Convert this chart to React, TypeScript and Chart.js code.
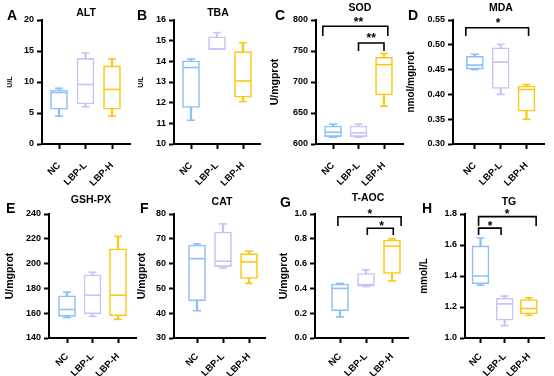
import React, { useEffect, useRef } from 'react';
import { Chart, registerables } from 'chart.js';

Chart.register(...registerables);

const FONT = '"Liberation Sans", Arial, sans-serif';

const groups = ['NC', 'LBP-L', 'LBP-H'];
const groupColors = ['#8DC0FB', '#C9C4F6', '#FBC817'];

// five-number summaries per group: [min, q1, median, q3, max]
const altBoxes = [[4.5, 5.6, 8.3, 8.7, 9.0], [6.0, 6.45, 9.6, 13.8, 14.7], [4.5, 5.6, 8.8, 12.6, 13.7]];
const tbaBoxes = [[11.15, 11.77, 13.7, 14.03, 14.11], [14.58, 14.58, 14.6, 15.19, 15.39], [12.05, 12.26, 13.05, 14.47, 14.9]];
const sodBoxes = [[611, 612, 619, 629, 632], [611, 612, 618, 629, 632], [661, 679, 728, 740, 746]];
const mdaBoxes = [[0.45, 0.451, 0.459, 0.477, 0.481], [0.40, 0.412, 0.465, 0.494, 0.501], [0.35, 0.366, 0.41, 0.417, 0.42]];
const gshBoxes = [[156.5, 157.5, 163, 174, 177], [157.5, 159.5, 174.5, 191, 193], [155, 158, 174.5, 212, 222]];
const catBoxes = [[41, 45, 62, 67.5, 68], [58.2, 58.8, 61, 72.7, 76], [52, 54, 60.7, 64, 65]];
const taocBoxes = [[0.17, 0.22, 0.40, 0.435, 0.44], [0.415, 0.418, 0.43, 0.52, 0.55], [0.46, 0.52, 0.74, 0.79, 0.80]];
const tgBoxes = [[1.34, 1.35, 1.40, 1.594, 1.645], [1.08, 1.115, 1.22, 1.256, 1.27], [1.145, 1.155, 1.19, 1.248, 1.26]];

// y axis: [min, max, step, decimals]
const altAxis = [0, 20, 5, 0];
const tbaAxis = [10, 16, 1, 0];
const sodAxis = [600, 800, 50, 0];
const mdaAxis = [0.3, 0.55, 0.05, 2];
const gshAxis = [140, 240, 20, 0];
const catAxis = [30, 80, 10, 0];
const taocAxis = [0, 1, 0.2, 1];
const tgAxis = [1.0, 1.8, 0.2, 1];

// significance brackets: [xFrom, xTo, yTop, yEnd]
const sodBrackets = [[-0.4, 2.15, 790, 774], [1, 2, 763, 750]];
const mdaBrackets = [[-0.35, 2.08, 0.5345, 0.5177]];
const taocBrackets = [[-0.08, 2.35, 0.978, 0.903], [1.05, 2.05, 0.885, 0.831]];
const tgBrackets = [[-0.08, 2.3, 1.783, 1.723], [-0.08, 0.85, 1.709, 1.665]];

// significance marks: [text, x, y]
const sodStars = [['**', 1.0, 801.6], ['**', 1.5, 775.8]];
const mdaStars = [['*', 0.9, 0.55]];
const taocStars = [['*', 1.15, 1.019], ['*', 1.6, 0.925]];
const tgStars = [['*', 1.1, 1.815], ['*', 0.4, 1.742]];

type Cfg = {
  letter: string; title: string; yTitle: string; yTitleSize: number; yTitleX: number;
  boxes: number[][]; axis: number[]; brackets: number[][]; stars: any[];
  axisX: number; ncX: number; sp: number; rightX: number; top: number; bottom: number; labelPad: number;
  titleX: number; titleTop: number; letterX: number; letterTop: number;
};

const panels: Cfg[] = [
  { letter: 'A', title: 'ALT', yTitle: 'U/L', yTitleSize: 7, yTitleX: 10, boxes: altBoxes, axis: altAxis, brackets: [], stars: [],
    axisX: 42, ncX: 59, sp: 26.5, rightX: 130, top: 20, bottom: 144, labelPad: 11, titleX: 86, titleTop: 8, letterX: 7, letterTop: 10 },
  { letter: 'B', title: 'TBA', yTitle: 'U/L', yTitleSize: 7, yTitleX: 141, boxes: tbaBoxes, axis: tbaAxis, brackets: [], stars: [],
    axisX: 174, ncX: 191, sp: 26, rightX: 260, top: 20, bottom: 144, labelPad: 11, titleX: 218, titleTop: 8, letterX: 137, letterTop: 10 },
  { letter: 'C', title: 'SOD', yTitle: 'U/mgprot', yTitleSize: 10.5, yTitleX: 275, boxes: sodBoxes, axis: sodAxis, brackets: sodBrackets, stars: sodStars,
    axisX: 316, ncX: 333, sp: 25.5, rightX: 403, top: 20, bottom: 144, labelPad: 11, titleX: 360, titleTop: 3, letterX: 275, letterTop: 10 },
  { letter: 'D', title: 'MDA', yTitle: 'nmol/mgprot', yTitleSize: 10, yTitleX: 411, boxes: mdaBoxes, axis: mdaAxis, brackets: mdaBrackets, stars: mdaStars,
    axisX: 453, ncX: 475, sp: 26, rightX: 545, top: 20, bottom: 144, labelPad: 11, titleX: 501, titleTop: 3, letterX: 408, letterTop: 10 },
  { letter: 'E', title: 'GSH-PX', yTitle: 'U/mgprot', yTitleSize: 10.5, yTitleX: 10, boxes: gshBoxes, axis: gshAxis, brackets: [], stars: [],
    axisX: 49, ncX: 67, sp: 25.5, rightX: 136, top: 214, bottom: 338, labelPad: 8, titleX: 91, titleTop: 195, letterX: 6, letterTop: 203 },
  { letter: 'F', title: 'CAT', yTitle: 'U/mgprot', yTitleSize: 10.5, yTitleX: 142, boxes: catBoxes, axis: catAxis, brackets: [], stars: [],
    axisX: 174, ncX: 197, sp: 26, rightX: 265, top: 214, bottom: 338, labelPad: 8, titleX: 222, titleTop: 197, letterX: 140, letterTop: 203 },
  { letter: 'G', title: 'T-AOC', yTitle: 'U/mgprot', yTitleSize: 10.5, yTitleX: 284, boxes: taocBoxes, axis: taocAxis, brackets: taocBrackets, stars: taocStars,
    axisX: 315, ncX: 340, sp: 26, rightX: 408, top: 214, bottom: 338, labelPad: 8, titleX: 368, titleTop: 193, letterX: 280, letterTop: 197 },
  { letter: 'H', title: 'TG', yTitle: 'mmol/L', yTitleSize: 10, yTitleX: 424, boxes: tgBoxes, axis: tgAxis, brackets: tgBrackets, stars: tgStars,
    axisX: 465, ncX: 482, sp: 26.5, rightX: 552, top: 214, bottom: 338, labelPad: 8, titleX: 509, titleTop: 197, letterX: 422, letterTop: 203 },
];

const W = 554;
const H = 376;
const CANVAS_H = 420;
const X_AXIS_H = 55;

function Panel({ cfg }: { cfg: Cfg }) {
  const ref = useRef<HTMLCanvasElement | null>(null);
  useEffect(() => {
    if (!ref.current) return;
    const xmin = -(cfg.ncX - cfg.axisX) / cfg.sp;
    const xmax = (cfg.rightX - cfg.ncX) / cfg.sp;
    const padLeft = cfg.yTitleX - 0.6 * cfg.yTitleSize;
    const yW = cfg.axisX - padLeft;
    const b = cfg.boxes;
    const datasets: any[] = [
      {
        type: 'bar', order: 2, grouped: false, barThickness: 17,
        data: b.map((v, i) => ({ x: i, y: [v[1], v[3]] })),
        backgroundColor: '#ffffff', borderColor: groupColors, borderWidth: 1.6, borderSkipped: false,
      },
      {
        type: 'bar', order: 3, grouped: false, barThickness: 1.6,
        data: b.map((v, i) => ({ x: i, y: [v[0], v[4]] })),
        backgroundColor: groupColors, borderWidth: 0,
      },
      {
        type: 'line', order: 1, showLine: false,
        data: b.map((v, i) => ({ x: i, y: v[2] })),
        pointStyle: 'line', pointRadius: 8, pointBorderWidth: 1.6, pointBorderColor: groupColors,
      },
      {
        type: 'line', order: 1, showLine: false,
        data: b.flatMap((v, i) => [{ x: i, y: v[0] }, { x: i, y: v[4] }]),
        pointStyle: 'line', pointRadius: 4, pointBorderWidth: 1.6,
        pointBorderColor: b.flatMap((_, i) => [groupColors[i], groupColors[i]]),
      },
      ...cfg.brackets.map((br) => ({
        type: 'line', order: 0, clip: false,
        data: [{ x: br[0], y: br[3] }, { x: br[0], y: br[2] }, { x: br[1], y: br[2] }, { x: br[1], y: br[3] }],
        borderColor: '#000', borderWidth: 1.6, pointRadius: 0, tension: 0, fill: false,
      })),
    ];
    const starPlugin = {
      id: 'stars',
      afterDatasetsDraw(chart: any) {
        const ctx = chart.ctx;
        ctx.save();
        ctx.fillStyle = '#000';
        ctx.font = `bold 12px ${FONT}`;
        ctx.textAlign = 'center';
        ctx.textBaseline = 'alphabetic';
        cfg.stars.forEach((s: any) => {
          const x = chart.scales.x.getPixelForValue(s[1]);
          const y = chart.scales.y.getPixelForValue(s[2]);
          ctx.fillText(s[0], x, y + 0.55 * 12);
        });
        ctx.restore();
      },
    };
    const axisCommon = {
      border: { display: true, color: '#000', width: 2 },
      grid: { display: true, drawOnChartArea: false, drawTicks: true, tickLength: 5, tickWidth: 2, tickColor: '#000', offset: false },
    };
    const chart = new Chart(ref.current, {
      type: 'bar',
      data: { datasets },
      plugins: [starPlugin],
      options: {
        animation: false,
        responsive: false,
        events: [],
        layout: {
          padding: { left: padLeft, top: cfg.top, right: W - cfg.rightX, bottom: CANVAS_H - cfg.bottom - X_AXIS_H },
        },
        plugins: { legend: { display: false }, tooltip: { enabled: false }, title: { display: false } },
        scales: {
          x: {
            type: 'linear', min: xmin, max: xmax, offset: false,
            ...axisCommon,
            afterBuildTicks: (s: any) => { s.ticks = [0, 1, 2].map((v) => ({ value: v })); },
            afterFit: (s: any) => { s.height = X_AXIS_H; },
            ticks: {
              autoSkip: false, minRotation: 45, maxRotation: 45, padding: cfg.labelPad, color: '#000',
              font: { family: FONT, size: 9.5, weight: 'bold' },
              callback: (v: any) => groups[Math.round(Number(v))],
            },
          },
          y: {
            type: 'linear', min: cfg.axis[0], max: cfg.axis[1],
            ...axisCommon,
            afterFit: (s: any) => { s.width = yW; },
            ticks: {
              stepSize: cfg.axis[2], padding: 3, color: '#000',
              font: { family: FONT, size: 9, weight: 'bold' },
              callback: (v: any) => Number(v).toFixed(cfg.axis[3]),
            },
            title: {
              display: true, text: cfg.yTitle, color: '#000', padding: 0,
              font: { family: FONT, size: cfg.yTitleSize, weight: 'bold' },
            },
          },
        },
      } as any,
    });
    return () => chart.destroy();
  }, [cfg]);
  return (
    <canvas ref={ref} width={W} height={CANVAS_H} style={{ position: 'absolute', left: 0, top: 0, width: W, height: CANVAS_H }} />
  );
}

export default function App() {
  return (
    <div style={{ position: 'fixed', left: 0, top: 0, width: W, height: H, background: '#fff', overflow: 'hidden', fontFamily: FONT, color: '#000' }}>
      {panels.map((p) => (
        <Panel key={p.letter} cfg={p} />
      ))}
      {panels.map((p) => (
        <div key={'l' + p.letter} style={{ position: 'absolute', left: p.letterX, top: p.letterTop - 0.131 * 14, fontSize: 14, lineHeight: '14px', fontWeight: 'bold', whiteSpace: 'nowrap' }}>
          {p.letter}
        </div>
      ))}
      {panels.map((p) => (
        <div key={'t' + p.letter} style={{ position: 'absolute', left: p.titleX - 50, width: 100, textAlign: 'center', top: p.titleTop - 0.131 * 10.5, fontSize: 10.5, lineHeight: '10.5px', fontWeight: 'bold', whiteSpace: 'nowrap' }}>
          {p.title}
        </div>
      ))}
    </div>
  );
}
